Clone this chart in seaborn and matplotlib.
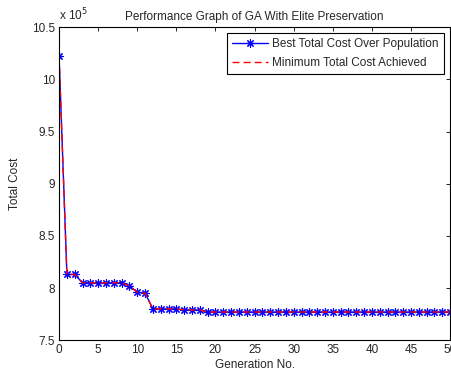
import numpy as np
import pandas as pd
import matplotlib
matplotlib.use("Agg")
import matplotlib.pyplot as plt
import seaborn as sns

# data (cost in units of 1e5)
generations = list(range(51))
best_cost = [10.22, 8.13, 8.13, 8.05, 8.05, 8.05, 8.05, 8.05, 8.05, 8.02,
             7.96, 7.95, 7.80, 7.80, 7.80, 7.80, 7.79, 7.79, 7.79] + [7.77] * 32
min_cost = [10.22, 8.13, 8.13, 8.05, 8.05, 8.05, 8.05, 8.05, 8.05, 8.02,
            7.96, 7.95, 7.80, 7.80, 7.80, 7.80, 7.79, 7.79, 7.79] + [7.77] * 32

df = pd.DataFrame({"gen": generations, "best": best_cost, "min": min_cost})

sns.set_style("white")
plt.rcParams['font.family'] = ['Liberation Sans', 'DejaVu Sans']
plt.rcParams['font.size'] = 8.5

fig = plt.figure(figsize=(4.51, 3.73), dpi=100)
ax = fig.add_axes([0.131, 0.088, 0.867, 0.839])

sns.lineplot(data=df, x="gen", y="best", ax=ax, color="blue", linewidth=1,
             marker=(8, 2, 0), markersize=6, markeredgewidth=0.8,
             markeredgecolor="blue", label="Best Total Cost Over Population")
sns.lineplot(data=df, x="gen", y="min", ax=ax, color="red", linewidth=1,
             linestyle=(0, (5, 3)), label="Minimum Total Cost Achieved")

ax.set_xlim(0, 50)
ax.set_ylim(7.5, 10.5)
ax.set_xticks(range(0, 51, 5))
ax.set_yticks([7.5, 8, 8.5, 9, 9.5, 10, 10.5])
ax.set_yticklabels(["7.5", "8", "8.5", "9", "9.5", "10", "10.5"])
ax.tick_params(direction="in", length=3, width=0.6, labelsize=8.5, pad=3,
               top=True, right=True, color="black")
for s in ax.spines.values():
    s.set_color("black")
    s.set_linewidth(0.8)

ax.set_xlabel("Generation No.", fontsize=8.5, labelpad=2)
ax.set_ylabel("Total Cost", fontsize=8.5, labelpad=8)
ax.set_title("Performance Graph of GA With Elite Preservation", fontsize=8.5, pad=5)
ax.text(0.0, 1.012, r"x 10$^5$", transform=ax.transAxes, fontsize=8.5,
        ha="left", va="bottom")

leg = ax.legend(loc="upper right", fontsize=8.5, frameon=True, fancybox=False,
                edgecolor="black", framealpha=1, borderaxespad=0.5,
                handlelength=3.0, borderpad=0.45, labelspacing=0.55,
                handletextpad=0.4)
leg.get_frame().set_linewidth(0.8)

fig.savefig("out.png", dpi=100)
